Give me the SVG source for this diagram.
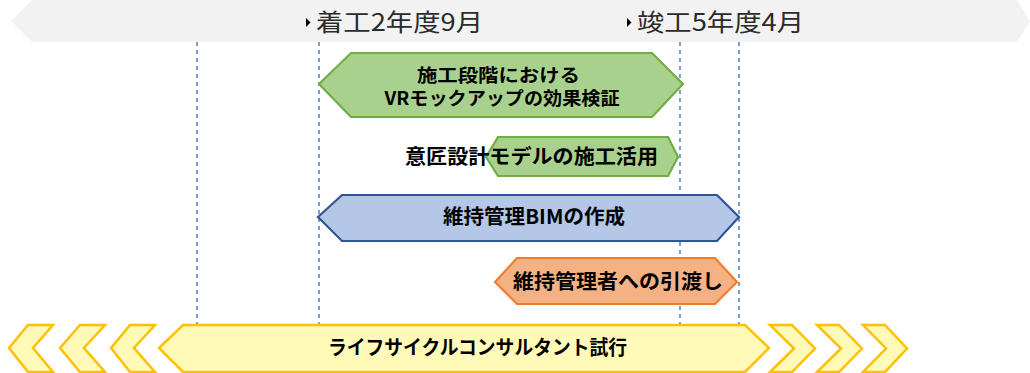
<svg xmlns="http://www.w3.org/2000/svg" width="1030" height="373" viewBox="0 0 1030 373">
  <style>
    .guide { stroke: #4472c4; stroke-width: 1.4; stroke-dasharray: 4 4; fill: none; }
    .lbl { font-family: "Noto Sans CJK JP", "Noto Sans", sans-serif; font-size: 24px; fill: #2b2b2b; }
    .t { font-family: "Noto Sans CJK JP", "Noto Sans", sans-serif; font-size: 20px; font-weight: bold; fill: #000; text-anchor: middle; }
    .t2 { font-size: 18.5px; }
    .green { fill: #a9d18e; stroke: #70ad47; stroke-width: 2.2; }
    .blue { fill: #b4c7e7; stroke: #2f5597; stroke-width: 2.2; }
    .orange { fill: #f4b183; stroke: #ed7d31; stroke-width: 2.2; }
    .yellow { fill: #fffab8; stroke: #ffc000; stroke-width: 2.5; stroke-linejoin: miter; }
  </style>

  <g id="timeline">
    <polygon points="11,21 32,0 1017,0 1030,21 1017,42 32,42" fill="#f2f2f2"/>
    <polygon points="306,18 310.5,22.5 306,27" fill="#000"/>
    <text class="lbl" x="316" y="31" textLength="167" lengthAdjust="spacingAndGlyphs">着工2年度9月</text>
    <polygon points="627,18 631.5,22.5 627,27" fill="#000"/>
    <text class="lbl" x="637" y="31" textLength="167" lengthAdjust="spacingAndGlyphs">竣工5年度4月</text>
  </g>

  <g id="connectors">
    <line class="guide" x1="197" y1="42" x2="197" y2="324"/>
    <line class="guide" x1="319" y1="42" x2="319" y2="324"/>
    <line class="guide" x1="680" y1="42" x2="680" y2="324"/>
    <line class="guide" x1="739" y1="42" x2="739" y2="324"/>
  </g>

  <g id="node-vr">
    <polygon class="green" points="319,84 351,53 652,53 683,84 652,117 351,117"/>
    <text class="t t2" x="498.5" y="81.5" textLength="163" lengthAdjust="spacingAndGlyphs">施工段階における</text>
    <text class="t t2" x="502" y="105" textLength="235" lengthAdjust="spacingAndGlyphs">VRモックアップの効果検証</text>
  </g>

  <g id="node-design-model">
    <polygon class="green" points="486,157 498,137 668,137 678,157 668,176 498,176"/>
    <text class="t" x="531.5" y="164" textLength="253" lengthAdjust="spacingAndGlyphs">意匠設計モデルの施工活用</text>
  </g>

  <g id="node-bim">
    <polygon class="blue" points="318,217 342,195 717,195 739,217 717,241 342,241"/>
    <text class="t" x="534" y="224" textLength="182" lengthAdjust="spacingAndGlyphs">維持管理BIMの作成</text>
  </g>

  <g id="node-handover">
    <polygon class="orange" points="495,282 517,258 715,258 737,282 715,304 517,304"/>
    <text class="t" x="618" y="289" textLength="210" lengthAdjust="spacingAndGlyphs">維持管理者への引渡し</text>
  </g>

  <g id="node-lifecycle">
    <polygon class="yellow" points="9,348 28,325 53,325 33,348 53,372 28,372"/>
    <polygon class="yellow" points="60,348 80,325 105,325 84,348 105,372 80,372"/>
    <polygon class="yellow" points="111,348 130,325 155,325 134,348 155,372 130,372"/>
    <polygon class="yellow" points="159,348 183,325 745,325 769,348 745,372 183,372"/>
    <polygon class="yellow" points="770,325 792,325 815,348.5 792,372 770,372 794,348.5"/>
    <polygon class="yellow" points="817,325 839,325 862,348.5 839,372 817,372 841,348.5"/>
    <polygon class="yellow" points="863,325 885,325 907,348.5 885,372 863,372 886,348.5"/>
    <text class="t" x="477.5" y="355" textLength="299" lengthAdjust="spacingAndGlyphs">ライフサイクルコンサルタント試行</text>
  </g>
</svg>
